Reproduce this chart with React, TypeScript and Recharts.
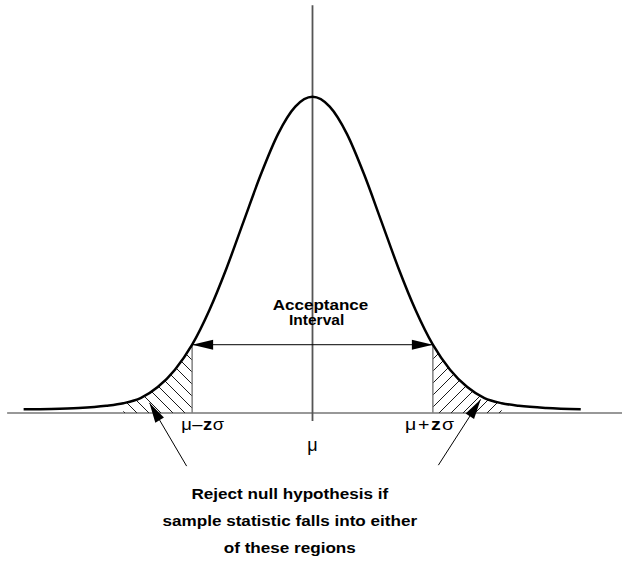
import React from "react";
import {
  Area,
  ComposedChart,
  Line,
  ReferenceDot,
  ReferenceLine,
  XAxis,
  YAxis,
} from "recharts";

// Standard normal curve, x in units of sigma, height relative to the peak
const zValues = [
  -4.2, -3.8, -3.4, -3.0, -2.75, -2.5, -2.25, -2.0, -1.75, -1.5, -1.25, -1.0,
  -0.75, -0.5, -0.25, 0, 0.25, 0.5, 0.75, 1.0, 1.25, 1.5, 1.75, 2.0, 2.25,
  2.5, 2.75, 3.0, 3.4, 3.9,
];
const density = [
  0.012, 0.013, 0.016, 0.023, 0.031, 0.047, 0.082, 0.137, 0.216, 0.325,
  0.458, 0.607, 0.755, 0.883, 0.969, 1, 0.969, 0.883, 0.755, 0.607, 0.458,
  0.325, 0.216, 0.137, 0.082, 0.047, 0.031, 0.023, 0.016, 0.012,
];

// acceptance bounds (±z) and how far the shaded tails reach
const criticalZ = 1.75;
const tailLimitZ = 2.75;
const criticalHeight = 0.216;

const intervalLabel = ["Acceptance", "Interval"];
const rejectNote = [
  "Reject null hypothesis if",
  "sample statistic falls into either",
  "of these regions",
];

const data = zValues.map((z, i) => ({
  z,
  density: density[i],
  leftTail: z <= -criticalZ && z >= -tailLimitZ ? density[i] : null,
  rightTail: z >= criticalZ && z <= tailLimitZ ? density[i] : null,
}));

const FONT = "'Liberation Sans', Arial, Helvetica, sans-serif";

function arrowHead(x1: number, y1: number, x2: number, y2: number, len: number, half: number) {
  const dx = x2 - x1;
  const dy = y2 - y1;
  const d = Math.hypot(dx, dy) || 1;
  const ux = dx / d;
  const uy = dy / d;
  const bx = x2 - ux * len;
  const by = y2 - uy * len;
  return `${x2},${y2} ${bx - uy * half},${by + ux * half} ${bx + uy * half},${by - ux * half}`;
}

// line with a filled head at its end point
const PointerArrow = (props: any) => {
  const { x1, y1, x2, y2 } = props;
  return (
    <g>
      <line x1={x1} y1={y1} x2={x2} y2={y2} stroke="#000" strokeWidth={1} />
      <polygon points={arrowHead(x1, y1, x2, y2, 20, 5)} fill="#000" />
    </g>
  );
};

// double headed arrow across the acceptance interval
const IntervalArrow = (props: any) => {
  const { x1, y1, x2, y2 } = props;
  return (
    <g>
      <line x1={x1} y1={y1} x2={x2} y2={y2} stroke="#000" strokeWidth={1} />
      <polygon points={arrowHead(x1, y1, x2, y2, 21, 5)} fill="#000" />
      <polygon points={arrowHead(x2, y2, x1, y1, 21, 5)} fill="#000" />
    </g>
  );
};

const textShape =
  (content: React.ReactNode, opts: { size: number; bold?: boolean; anchor?: string; sx?: number }) =>
  (props: any) => (
    <text
      transform={`translate(${props.cx},${props.cy}) scale(${opts.sx ?? 1},1)`}
      textAnchor={opts.anchor ?? "middle"}
      fontFamily={FONT}
      fontSize={opts.size}
      fontWeight={opts.bold ? "bold" : "normal"}
      fill="#000"
    >
      {content}
    </text>
  );

const muMinus = (
  <>
    <tspan>μ</tspan>
    <tspan dx={0.5}>–</tspan>
    <tspan dx={0.5} fontWeight="bold">z</tspan>
    <tspan dx={0.5}>σ</tspan>
  </>
);
const muPlus = (
  <>
    <tspan>μ</tspan>
    <tspan dx={1.5}>+</tspan>
    <tspan dx={1.5} fontWeight="bold">z</tspan>
    <tspan dx={1}>σ</tspan>
  </>
);

export default function App() {
  return (
    <div style={{ width: 622, height: 564, background: "#fff" }}>
      <style>{`body{margin:0}`}</style>
      <ComposedChart
        width={622}
        height={564}
        data={data}
        margin={{ top: 2, right: 0, bottom: 151, left: 3 }}
      >
        <defs>
          <pattern id="hatchLeft" width={12} height={12} patternUnits="userSpaceOnUse">
            <path d="M-3,9 L3,15 M0,0 L12,12 M9,-3 L15,3" stroke="#000" strokeWidth={0.9} />
          </pattern>
          <pattern id="hatchRight" width={12} height={12} patternUnits="userSpaceOnUse">
            <path d="M-3,3 L3,-3 M0,12 L12,0 M9,15 L15,9" stroke="#000" strokeWidth={0.9} />
          </pattern>
        </defs>
        <XAxis dataKey="z" type="number" domain={[-4.5, 4.5]} hide />
        <YAxis type="number" domain={[0, 1.3]} hide />

        <Area
          dataKey="leftTail"
          type="monotone"
          stroke="none"
          fill="url(#hatchLeft)"
          fillOpacity={1}
          isAnimationActive={false}
        />
        <Area
          dataKey="rightTail"
          type="monotone"
          stroke="none"
          fill="url(#hatchRight)"
          fillOpacity={1}
          isAnimationActive={false}
        />

        {/* horizontal axis and the mean line */}
        <ReferenceLine
          segment={[{ x: -4.44, y: 0 }, { x: 4.5, y: 0 }]}
          stroke="#333"
          strokeWidth={1.2}
          ifOverflow="visible"
        />
        <ReferenceLine
          segment={[{ x: 0, y: -0.025 }, { x: 0, y: 1.29 }]}
          stroke="#555"
          strokeWidth={1.8}
          ifOverflow="visible"
        />

        {/* critical value markers */}
        <ReferenceLine
          segment={[{ x: -criticalZ, y: 0 }, { x: -criticalZ, y: criticalHeight }]}
          stroke="#808080"
          strokeWidth={1.5}
          ifOverflow="visible"
        />
        <ReferenceLine
          segment={[{ x: criticalZ, y: 0 }, { x: criticalZ, y: criticalHeight }]}
          stroke="#808080"
          strokeWidth={1.5}
          ifOverflow="visible"
        />
        <ReferenceLine
          segment={[{ x: -criticalZ, y: criticalHeight }, { x: criticalZ, y: criticalHeight }]}
          shape={IntervalArrow}
          ifOverflow="visible"
        />

        <Line
          dataKey="density"
          type="monotone"
          stroke="#000"
          strokeWidth={2.5}
          dot={false}
          isAnimationActive={false}
        />

        {/* pointers from the note to the rejection tails */}
        <ReferenceLine
          segment={[{ x: -1.83, y: -0.168 }, { x: -2.37, y: 0.032 }]}
          shape={PointerArrow}
          ifOverflow="visible"
        />
        <ReferenceLine
          segment={[{ x: 1.83, y: -0.165 }, { x: 2.445, y: 0.043 }]}
          shape={PointerArrow}
          ifOverflow="visible"
        />

        <ReferenceDot
          x={0.116}
          y={0.326}
          ifOverflow="visible"
          shape={textShape(intervalLabel[0], { size: 15.5, bold: true, sx: 1.1 })}
        />
        <ReferenceDot
          x={0.06}
          y={0.277}
          ifOverflow="visible"
          shape={textShape(intervalLabel[1], { size: 15.5, bold: true, sx: 1.0 })}
        />

        <ReferenceDot
          x={-1.91}
          y={-0.054}
          ifOverflow="visible"
          shape={textShape(muMinus, { size: 17, anchor: "start", sx: 1.08 })}
        />
        <ReferenceDot
          x={1.345}
          y={-0.054}
          ifOverflow="visible"
          shape={textShape(muPlus, { size: 17, anchor: "start", sx: 1.15 })}
        />
        <ReferenceDot
          x={0}
          y={-0.12}
          ifOverflow="visible"
          shape={textShape("μ", { size: 18 })}
        />

        {rejectNote.map((line, i) => (
          <ReferenceDot
            key={line}
            x={-0.33}
            y={-0.272 - i * 0.0855}
            ifOverflow="visible"
            shape={textShape(line, { size: 14.5, bold: true, sx: 1.18 })}
          />
        ))}
      </ComposedChart>
    </div>
  );
}
